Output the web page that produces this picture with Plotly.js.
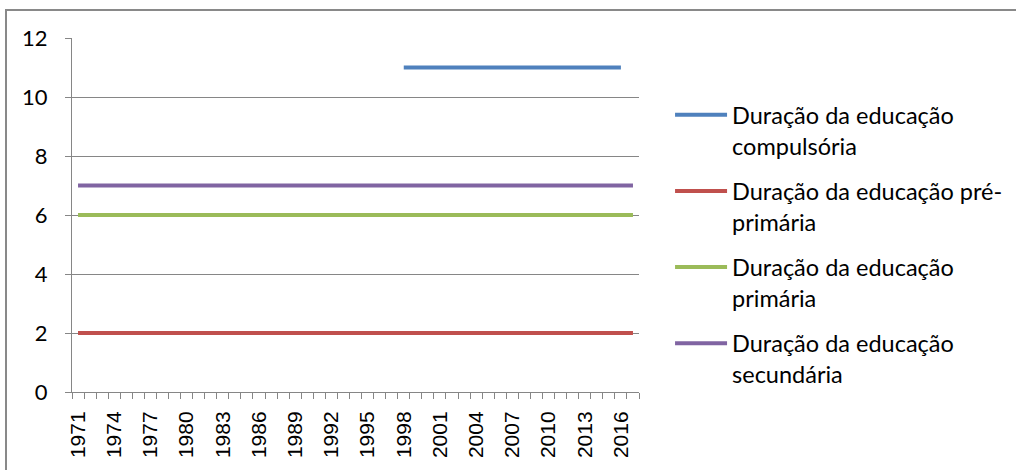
<!DOCTYPE html>
<html>
<head>
<meta charset="utf-8">
<script src="https://cdn.plot.ly/plotly-3.0.1.min.js"></script>
<style>
html,body{margin:0;padding:0;background:#fff;overflow:hidden;}
#wrap{position:relative;width:1016px;height:470px;}
#chart{width:1016px;height:470px;}
#frame{position:absolute;left:5px;top:9px;width:1100px;height:600px;border:2px solid #898989;box-sizing:border-box;pointer-events:none;}
</style>
</head>
<body>
<div id="wrap"><div id="chart"></div><div id="frame"></div></div>
<script>
const years = [1971,1972,1973,1974,1975,1976,1977,1978,1979,1980,1981,1982,1983,1984,1985,1986,1987,1988,1989,1990,1991,1992,1993,1994,1995,1996,1997,1998,1999,2000,2001,2002,2003,2004,2005,2006,2007,2008,2009,2010,2011,2012,2013,2014,2015,2016,2017];
const tickLabels = [1971,1974,1977,1980,1983,1986,1989,1992,1995,1998,2001,2004,2007,2010,2013,2016];
const compulsoryYears = [1998,1999,2000,2001,2002,2003,2004,2005,2006,2007,2008,2009,2010,2011,2012,2013,2014,2015,2016];
const compulsory = [11,11,11,11,11,11,11,11,11,11,11,11,11,11,11,11,11,11,11];
const prePrimary = [2,2,2,2,2,2,2,2,2,2,2,2,2,2,2,2,2,2,2,2,2,2,2,2,2,2,2,2,2,2,2,2,2,2,2,2,2,2,2,2,2,2,2,2,2,2,2];
const primary = [6,6,6,6,6,6,6,6,6,6,6,6,6,6,6,6,6,6,6,6,6,6,6,6,6,6,6,6,6,6,6,6,6,6,6,6,6,6,6,6,6,6,6,6,6,6,6];
const secondary = [7,7,7,7,7,7,7,7,7,7,7,7,7,7,7,7,7,7,7,7,7,7,7,7,7,7,7,7,7,7,7,7,7,7,7,7,7,7,7,7,7,7,7,7,7,7,7];
const names = ['Duração da educação<br>compulsória','Duração da educação pré-<br>primária','Duração da educação<br>primária','Duração da educação<br>secundária'];
const colors = ['#4F81BD','#C0504D','#9BBB59','#8064A2'];

const textFont = 'Lato, "Open Sans", sans-serif';
const series = [[compulsoryYears, compulsory],[years, prePrimary],[years, primary],[years, secondary]];
const traces = series.map((s,i)=>({
  x: s[0], y: s[1], type:'scatter', mode:'lines', name: names[i],
  legendgroup: 'g'+i,
  line:{color:colors[i], width:4, shape:'linear'},
  hoverinfo:'skip'
}));

const layout = {
  width:1016, height:470,
  margin:{l:72, r:377, t:38, b:78, pad:0, autoexpand:false},
  paper_bgcolor:'#fff', plot_bgcolor:'#fff',
  showlegend:true,
  legend:{x:0.6595, xanchor:'left', y:0.802, yanchor:'top', xref:'container', yref:'container',
    font:{family:textFont, size:23.5, color:'#000'}, maxheight:1,
    itemwidth:52, tracegroupgap:12, valign:'top', bgcolor:'rgba(0,0,0,0)'},
  xaxis:{type:'linear', range:[1970.5,2017.5], tickmode:'array', tickvals:tickLabels, ticktext:tickLabels.map(String),
    tickangle:-90, ticks:'outside', ticklen:6, tickcolor:'rgba(0,0,0,0)',
    tickfont:{family:'"Liberation Sans", Arial, sans-serif', size:21, color:'#000'},
    showgrid:false, zeroline:false, showline:true, linecolor:'#868686', linewidth:1,
    minor:{tickmode:'linear', tick0:1970.5, dtick:1, ticks:'outside', ticklen:6, tickcolor:'#868686', showgrid:false},
    ticklabelstandoff:4, automargin:false, fixedrange:true},
  yaxis:{range:[0,12], dtick:2, tick0:0, ticks:'outside', ticklen:6, tickcolor:'#868686',
    tickfont:{family:textFont, size:22, color:'#000'},
    showgrid:true, gridcolor:'#868686', gridwidth:1, zeroline:false, showline:true, linecolor:'#868686', linewidth:1,
    ticklabelstandoff:13, automargin:false, fixedrange:true}
};
Plotly.newPlot('chart', traces, layout, {displayModeBar:false, staticPlot:true});
</script>
</body>
</html>
